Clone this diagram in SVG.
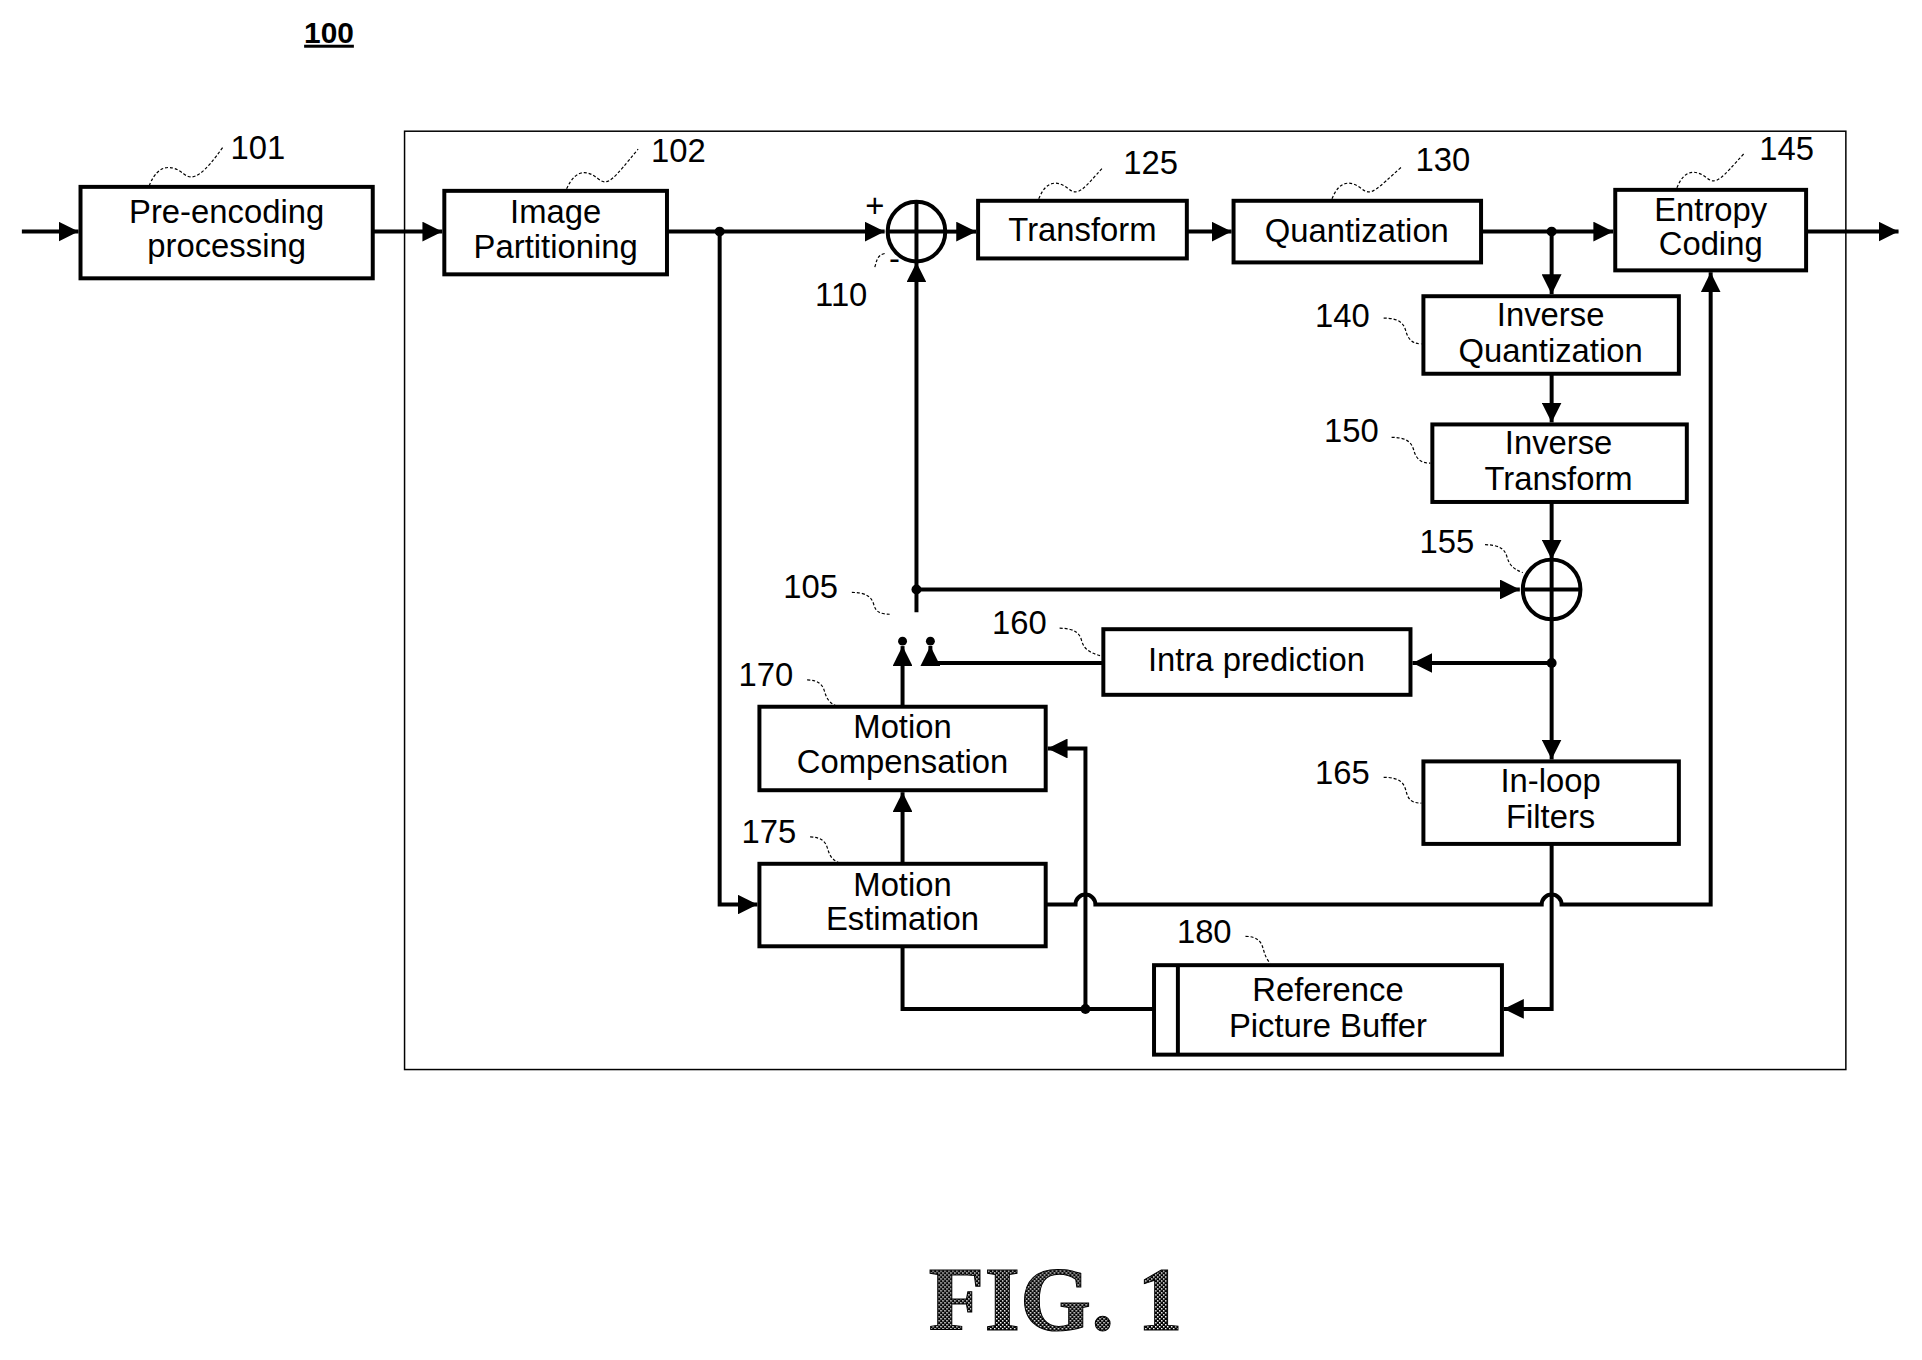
<svg xmlns="http://www.w3.org/2000/svg" width="1922" height="1360" viewBox="0 0 1922 1360">
<style>
.b{fill:#fff;stroke:#000;stroke-width:4}
.t{font-family:"Liberation Sans",Arial,sans-serif;font-size:33px;text-anchor:middle;fill:#000}
.n{font-family:"Liberation Sans",Arial,sans-serif;font-size:33px;fill:#000}
.w{fill:none;stroke:#000;stroke-width:4}
.a{fill:none;stroke:#000;stroke-width:4;marker-end:url(#ah)}
.l{fill:none;stroke:#000;stroke-width:1.2;stroke-dasharray:3,2}
</style>
<defs>
<marker id="ah" viewBox="0 0 10 10" refX="10" refY="5" markerWidth="5" markerHeight="5" orient="auto" markerUnits="strokeWidth"><path d="M0,0L10,5L0,10z" fill="#000"/></marker>
<pattern id="st" width="4" height="4" patternUnits="userSpaceOnUse"><rect width="4" height="4" fill="#000"/><rect x="0" y="0" width="1.5" height="1.5" fill="#fff"/><rect x="2" y="2" width="1.5" height="1.5" fill="#fff"/></pattern>
</defs>
<rect width="1922" height="1360" fill="#fff"/>
<g transform="scale(0.994)">
<text x="331" y="43" font-family="Liberation Sans,Arial,sans-serif" font-size="30" font-weight="bold" text-anchor="middle" text-decoration="underline">100</text>
<rect x="407" y="132" width="1450" height="944" fill="none" stroke="#000" stroke-width="1.5"/>

<g id="connectors">
<path class="a" d="M22,233H79"/>
<path class="a" d="M375,233H445"/>
<path class="a" d="M671,233H890"/>
<path class="a" d="M952,233H982"/>
<path class="a" d="M1194,233H1239"/>
<path class="a" d="M1490,233H1623"/>
<path class="a" d="M1817,233H1910"/>
<path class="a" d="M1561,233V296"/>
<path class="a" d="M1561,376V425"/>
<path class="a" d="M1561,505V563"/>
<path class="a" d="M1561,623V764"/>
<path class="a" d="M1561,667H1421"/>
<path class="a" d="M922,593H1529"/>
<path class="a" d="M922,616V264"/>
<path class="a" d="M1110,667H936V650"/>
<path class="a" d="M908,711V650"/>
<path class="a" d="M908,869V797"/>
<path class="a" d="M724,233V910H762"/>
<path class="a" d="M1052,910H1082a10,10 0 0 1 20,0H1551a10,10 0 0 1 20,0H1721V274"/>
<path class="a" d="M1561,849V1015H1513"/>
<path class="w" d="M1161,1015H908V952"/>
<path class="a" d="M1092,1015V753H1054"/>
<circle cx="724" cy="233" r="5"/>
<circle cx="1561" cy="233" r="5"/>
<circle cx="922" cy="593" r="5"/>
<circle cx="1561" cy="667" r="5"/>
<circle cx="1092" cy="1015" r="5"/>
<circle cx="908" cy="645" r="4.5"/>
<circle cx="936" cy="645" r="4.5"/>
</g>

<g id="n101"><rect class="b" x="81" y="188" width="294" height="92"/><text class="t" x="228" y="224">Pre-encoding</text><text class="t" x="228" y="259">processing</text><text class="n" x="232" y="160">101</text><path class="l" d="M150,187c10,-25 25,-20 35,-12s20,0 40,-28"/></g>
<g id="n102"><rect class="b" x="447" y="192" width="224" height="84"/><text class="t" x="559" y="224">Image</text><text class="t" x="559" y="260">Partitioning</text><text class="n" x="655" y="163">102</text><path class="l" d="M570,190c10,-22 22,-18 32,-10s15,0 40,-30"/></g>
<g id="n110"><ellipse cx="922" cy="233" rx="29" ry="30" fill="#fff" stroke="#000" stroke-width="4"/><path class="w" d="M893,233H951M922,203V263"/><text class="n" x="880" y="218" font-size="26" text-anchor="middle">+</text><text class="n" x="900" y="272" font-size="26" text-anchor="middle">-</text><text class="n" x="820" y="308">110</text><path class="l" d="M890,255c-8,2 -8,8 -10,14"/></g>
<g id="n125"><rect class="b" x="984" y="202" width="210" height="58"/><text class="t" x="1089" y="242">Transform</text><text class="n" x="1130" y="175">125</text><path class="l" d="M1045,200c8,-20 20,-18 30,-10s15,0 35,-22"/></g>
<g id="n130"><rect class="b" x="1241" y="202" width="249" height="62"/><text class="t" x="1365" y="243">Quantization</text><text class="n" x="1424" y="172">130</text><path class="l" d="M1340,200c8,-20 20,-18 30,-10s15,0 40,-22"/></g>
<g id="n145"><rect class="b" x="1625" y="191" width="192" height="81"/><text class="t" x="1721" y="222">Entropy</text><text class="t" x="1721" y="257">Coding</text><text class="n" x="1770" y="161">145</text><path class="l" d="M1687,189c8,-20 20,-18 30,-10s15,0 38,-25"/></g>
<g id="n140"><rect class="b" x="1432" y="298" width="257" height="78"/><text class="t" x="1560" y="328">Inverse</text><text class="t" x="1560" y="364">Quantization</text><text class="n" x="1323" y="329">140</text><path class="l" d="M1392,320c15,0 20,5 22,12s5,14 16,14"/></g>
<g id="n150"><rect class="b" x="1441" y="427" width="256" height="78"/><text class="t" x="1568" y="457">Inverse</text><text class="t" x="1568" y="493">Transform</text><text class="n" x="1332" y="445">150</text><path class="l" d="M1400,440c15,0 20,5 22,12s5,14 17,14"/></g>
<g id="n155"><ellipse cx="1561" cy="593" rx="29" ry="30" fill="#fff" stroke="#000" stroke-width="4"/><path class="w" d="M1532,593H1590M1561,563V623"/><text class="n" x="1428" y="556">155</text><path class="l" d="M1494,548c15,0 20,5 22,12s5,12 16,16"/></g>
<g id="n160"><rect class="b" x="1110" y="633" width="309" height="66"/><text class="t" x="1264" y="675">Intra prediction</text><text class="n" x="998" y="638">160</text><path class="l" d="M1066,632c15,0 20,5 22,12s5,12 20,16"/></g>
<g id="n105"><text class="n" x="788" y="602">105</text><path class="l" d="M857,596c15,0 20,5 22,12s5,10 18,10"/></g>
<g id="n170"><rect class="b" x="764" y="711" width="288" height="84"/><text class="t" x="908" y="742">Motion</text><text class="t" x="908" y="778">Compensation</text><text class="n" x="743" y="690">170</text><path class="l" d="M812,684c10,0 15,4 17,10s3,12 12,16"/></g>
<g id="n175"><rect class="b" x="764" y="869" width="288" height="83"/><text class="t" x="908" y="901">Motion</text><text class="t" x="908" y="936">Estimation</text><text class="n" x="746" y="848">175</text><path class="l" d="M815,842c10,0 15,4 17,10s3,12 12,16"/></g>
<g id="n165"><rect class="b" x="1432" y="766" width="257" height="83"/><text class="t" x="1560" y="797">In-loop</text><text class="t" x="1560" y="833">Filters</text><text class="n" x="1323" y="789">165</text><path class="l" d="M1392,782c15,0 20,5 22,12s3,14 16,14"/></g>
<g id="n180"><rect class="b" x="1161" y="971" width="350" height="90"/><path class="w" d="M1185,971V1061"/><text class="t" x="1336" y="1007">Reference</text><text class="t" x="1336" y="1043">Picture Buffer</text><text class="n" x="1184" y="949">180</text><path class="l" d="M1253,942c10,0 15,4 17,10s3,12 8,17"/></g>

<text x="1062" y="1338" font-family="Liberation Serif,serif" font-size="92" font-weight="bold" text-anchor="middle" fill="url(#st)" stroke="#000" stroke-width="1">FIG. 1</text>
</g>
</svg>
